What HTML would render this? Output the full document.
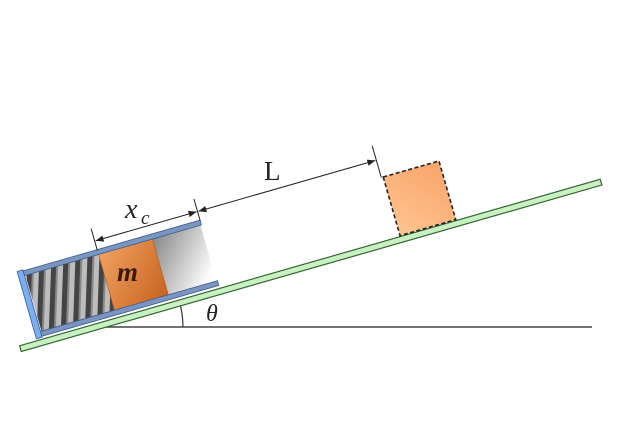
<!DOCTYPE html>
<html><head><meta charset="utf-8"><style>
html,body{margin:0;padding:0;background:#fff;width:632px;height:446px;overflow:hidden}
svg{display:block}
text{font-family:"Liberation Serif",serif;font-style:italic;fill:#222}
</style></head><body>
<svg width="632" height="446" viewBox="0 0 632 446" xmlns="http://www.w3.org/2000/svg">
<defs>
<linearGradient id="gm" x1="0" y1="0" x2="1" y2="1">
<stop offset="0" stop-color="#f0a060"/><stop offset="1" stop-color="#c86420"/></linearGradient>
<linearGradient id="gg" x1="0" y1="0" x2="1" y2="1">
<stop offset="0" stop-color="#888"/><stop offset="0.9" stop-color="#fff"/></linearGradient>
<linearGradient id="gb" x1="0" y1="1" x2="1" y2="0">
<stop offset="0" stop-color="#ffc490"/><stop offset="1" stop-color="#f9a46a"/></linearGradient>
<pattern id="sp" width="12" height="10" patternUnits="userSpaceOnUse" patternTransform="rotate(18)">
<rect width="12" height="10" fill="#bdbdbd"/><rect x="0" width="5" height="10" fill="#444"/><rect x="5" width="2" height="10" fill="#888"/></pattern>
<marker id="ar" viewBox="0 0 10 10" refX="10" refY="5" markerWidth="8" markerHeight="8" orient="auto-start-reverse"><path d="M0,1 L10,5 L0,9 z" fill="#222"/></marker>
</defs>
<line x1="85" y1="327" x2="592" y2="327" stroke="#444" stroke-width="1.6"/>
<path d="M183,327 A98,98 0 0 0 179,300" fill="none" stroke="#333" stroke-width="1.2"/>
<g transform="translate(85,327) rotate(-16)">
<rect x="-68" y="0" width="604" height="6" fill="#c8f0c0" stroke="#336633" stroke-width="1.2"/>
<rect x="-43" y="-66" width="76" height="58" fill="url(#sp)"/>
<rect x="89" y="-66" width="50" height="58" fill="url(#gg)"/>
<rect x="33" y="-66" width="56" height="58" fill="url(#gm)" stroke="#b05a20" stroke-width="0.6"/>
<rect x="-44" y="-71" width="184" height="5" fill="#7a96c0" stroke="#3a5a90" stroke-width="0.8"/>
<rect x="-44" y="-8" width="184" height="5" fill="#7a96c0" stroke="#3a5a90" stroke-width="0.8"/>
<rect x="-50" y="-72" width="6" height="70" fill="#7aaef0" stroke="#3a5a90" stroke-width="0.8"/>
<rect x="328" y="-62" width="58" height="61" fill="url(#gb)" stroke="#222" stroke-width="1.6" stroke-dasharray="4,2.5"/>
<line x1="33" y1="-70" x2="33" y2="-93" stroke="#222" stroke-width="1"/>
<line x1="140" y1="-70" x2="140" y2="-93" stroke="#222" stroke-width="1"/>
<line x1="326" y1="-62" x2="326" y2="-95" stroke="#222" stroke-width="1"/>
<line x1="34" y1="-80" x2="139" y2="-80" stroke="#222" stroke-width="1" marker-start="url(#ar)" marker-end="url(#ar)"/>
<line x1="141" y1="-80" x2="325" y2="-80" stroke="#222" stroke-width="1" marker-start="url(#ar)" marker-end="url(#ar)"/>
</g>
<text x="125" y="218" font-size="28">x</text><text x="141" y="224" font-size="19">c</text>
<text x="264" y="180" font-size="27" style="font-style:normal">L</text>
<text x="117" y="281" font-size="27" font-weight="bold" style="fill:#3a1a08">m</text>
<text x="206" y="321" font-size="24">θ</text>
</svg>
</body></html>
